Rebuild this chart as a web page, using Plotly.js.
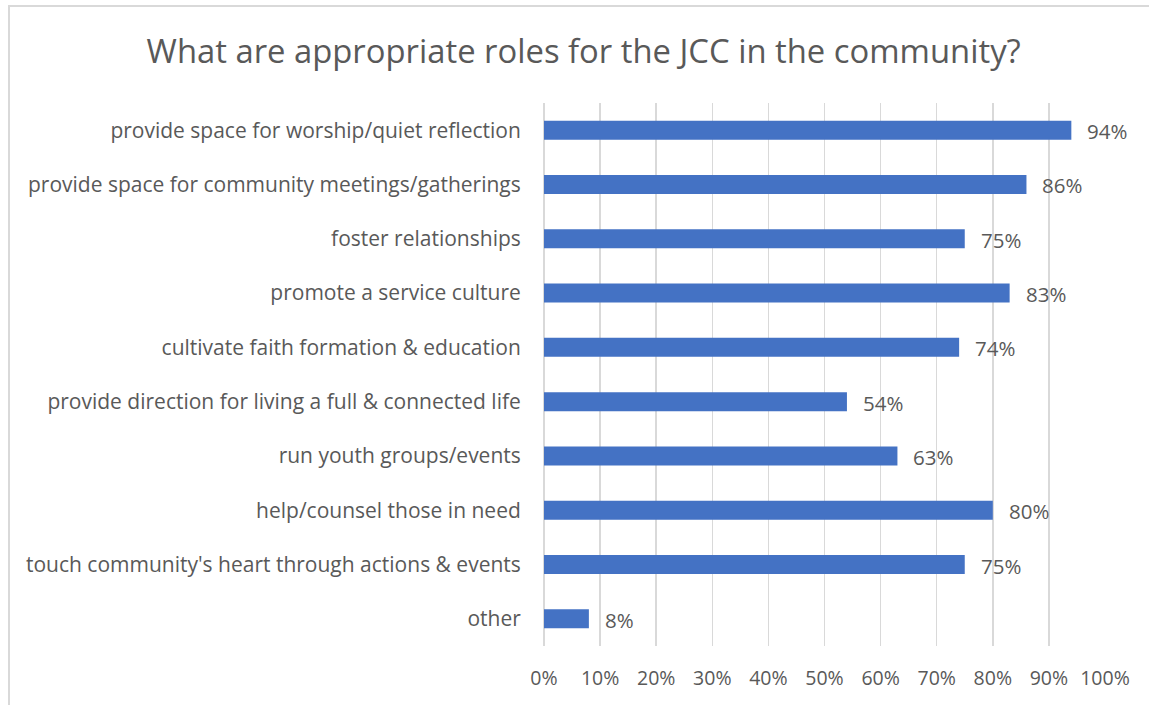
<!DOCTYPE html>
<html>
<head>
<meta charset="utf-8">
<script src="https://cdn.plot.ly/plotly-3.0.1.min.js"></script>
<style>
html,body{margin:0;padding:0;background:#fff;overflow:hidden;}
#chart{width:1149px;height:705px;}
#frame{position:absolute;left:8px;top:5px;width:1200px;height:800px;border-left:2px solid #d9d9d9;border-top:2px solid #d9d9d9;pointer-events:none;}
</style>
</head>
<body>
<div id="chart"></div>
<div id="frame"></div>
<script>
const categories = [
  "provide space for worship/quiet reflection",
  "provide space for community meetings/gatherings",
  "foster relationships",
  "promote a service culture",
  "cultivate faith formation & education",
  "provide direction for living a full & connected life",
  "run youth groups/events",
  "help/counsel those in need",
  "touch community's heart through actions & events",
  "other"
];
const values = [0.94, 0.86, 0.75, 0.83, 0.74, 0.54, 0.63, 0.80, 0.75, 0.08];
const valueLabels = ["94%", "86%", "75%", "83%", "74%", "54%", "63%", "80%", "75%", "8%"];
const tickVals = [0, 0.1, 0.2, 0.3, 0.4, 0.5, 0.6, 0.7, 0.8, 0.9, 1.0];
const tickText = ["0%", "10%", "20%", "30%", "40%", "50%", "60%", "70%", "80%", "90%", "100%"];

const FONT = "'Open Sans', Lato, sans-serif";
const GRAY = "#595959";

const trace = {
  type: "bar",
  orientation: "h",
  x: values,
  y: categories,
  marker: {color: "#4472C4"},
  hoverinfo: "none"
};

const annotations = values.map((v, i) => ({
  x: v, y: categories[i], xref: "x", yref: "y",
  text: valueLabels[i], showarrow: false,
  xanchor: "left", yanchor: "middle", xshift: 14, yshift: -1,
  font: {family: FONT, size: 20.5, color: GRAY}
}));

const layout = {
  width: 1149, height: 705,
  margin: {l: 544, r: 44, t: 103, b: 59, pad: 0},
  paper_bgcolor: "#fff", plot_bgcolor: "#fff",
  showlegend: false,
  bargap: 0.65,
  title: {
    text: "What are appropriate roles for the JCC in the community?",
    font: {family: FONT, size: 32.8, color: GRAY},
    x: 0.508, xanchor: "center", y: 0.927, yanchor: "middle"
  },
  xaxis: {
    range: [0, 1.0],
    tickvals: tickVals, ticktext: tickText,
    showgrid: true, gridcolor: "#d9d9d9", gridwidth: 1.5,
    zeroline: true, zerolinecolor: "#d9d9d9", zerolinewidth: 1.5,
    showline: false,
    ticks: "outside", ticklen: 15, tickcolor: "rgba(0,0,0,0)",
    tickfont: {family: FONT, size: 19.5, color: GRAY},
    fixedrange: true
  },
  yaxis: {
    type: "category",
    autorange: "reversed",
    showgrid: false, zeroline: false, showline: false,
    ticks: "outside", ticklen: 18, tickcolor: "rgba(0,0,0,0)",
    tickfont: {family: FONT, size: 21, color: GRAY},
    fixedrange: true
  },
  annotations: annotations
};

Plotly.newPlot("chart", [trace], layout, {displayModeBar: false, staticPlot: true});
</script>
</body>
</html>
